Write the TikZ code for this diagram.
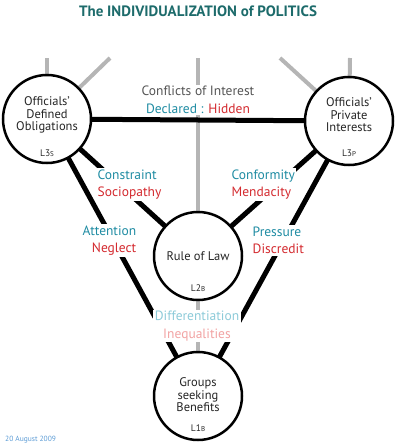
\documentclass[tikz,border=0pt]{standalone}
\usepackage{fontspec}
\setmainfont{PT Sans}
\definecolor{titleteal}{HTML}{1D6B6B}
\definecolor{goodblue}{HTML}{1F8CA3}
\definecolor{badred}{HTML}{D42A2F}
\definecolor{paleblue}{HTML}{8DCBD9}
\definecolor{palered}{HTML}{F2A3A3}
\definecolor{datablue}{HTML}{5B9BD5}
\definecolor{linegray}{HTML}{B5B5B5}
\definecolor{textgray}{HTML}{555555}
\tikzset{
  level/.style={circle, draw=black, line width=2.5pt, fill=white, minimum size=88pt, inner sep=0pt},
  ctext/.style={align=center, font=\fontsize{12.5}{12.5}\selectfont, text=black!85},
  lcode/.style={font=\fontsize{9.5}{9.5}\selectfont, text=black!85},
  pair/.style={fill=white, inner sep=1.5pt, font=\fontsize{13.5}{17.5}\selectfont},
  bond/.style={line width=5pt},
  guide/.style={line width=4pt, draw=linegray}
}
\newcommand{\lsub}[1]{{\fontsize{7}{7}\selectfont #1}}
\begin{document}
\begin{tikzpicture}[x=1pt,y=-1pt]
\useasboundingbox (0,0) rectangle (400,447);
% Title
\node (title) at (198,11) {\fontsize{15}{15}\selectfont\bfseries\color{titleteal}The INDIVIDUALIZATION of POLITICS};

% Points of the four levels
\coordinate (sc) at (47,119);
\coordinate (pc) at (349,121);
\coordinate (rc) at (198,256);
\coordinate (gc) at (198,396);

% Grey guide lines
\coordinate (sup) at (47,58);
\coordinate (sdiag) at (110,58);
\coordinate (pup) at (350,58);
\coordinate (pdiag) at (280,58);
\coordinate (mid) at (198,58);
\draw [guide] (sc) -- (sup);
\draw [guide] (sc) -- (sdiag);
\draw [guide] (pc) -- (pup);
\draw [guide] (pc) -- (pdiag);
\draw [guide] (mid) -- (gc);

% Conflicts of Interest
\node [pair, align=center] (coi) at (198,100) {\color{textgray}Conflicts of Interest\\\color{goodblue}Declared : \color{badred}Hidden};

% Drawing segments between levels
\draw [bond] (sc) -- (pc);
\draw [bond] (sc) -- (rc);
\draw [bond] (sc) -- (gc);
\draw [bond] (pc) -- (rc);
\draw [bond] (pc) -- (gc);

% Labels on the segments
\node [pair, align=left, anchor=west] (cs) at (96,184.5) {\color{goodblue}Constraint\\\color{badred}Sociopathy};
\node [pair, align=left, anchor=west] (cm) at (230,184.5) {\color{goodblue}Conformity\\\color{badred}Mendacity};
\node [pair, align=right, anchor=east] (an) at (138,240.5) {\color{goodblue}Attention\\\color{badred}Neglect};
\node [pair, align=left, anchor=west] (pd) at (251,240.5) {\color{goodblue}Pressure\\\color{badred}Discredit};
\node [pair, align=center] (di) at (197,326) {\color{paleblue}Differentiation\\\color{palered}Inequalities};

% Levels
\node [level] (S) at (sc) {};
\node [ctext] at ([yshift=4pt]S.center) {Officials’\\Defined\\Obligations};
\node [lcode] at ([yshift=11pt]S.south) {L3\lsub{S}};

\node [level] (P) at (pc) {};
\node [ctext] at ([yshift=6pt]P.center) {Officials’\\Private\\Interests};
\node [lcode] at ([yshift=13pt]P.south) {L3\lsub{P}};

\node [level] (R) at (rc) {};
\node [ctext] at (R.center) {Rule of Law};
\node [lcode] at ([yshift=13pt]R.south) {L2\lsub{B}};

\node [level] (G) at (gc) {};
\node [ctext] at ([yshift=1pt]G.center) {Groups\\seeking\\Benefits};
\node [lcode] at ([yshift=13pt]G.south) {L1\lsub{B}};

% Date
\node [anchor=west, inner sep=0pt, font=\fontsize{7.5}{7.5}\selectfont, text=datablue] (date) at (5,440) {20 August 2009};
\end{tikzpicture}
\end{document}
